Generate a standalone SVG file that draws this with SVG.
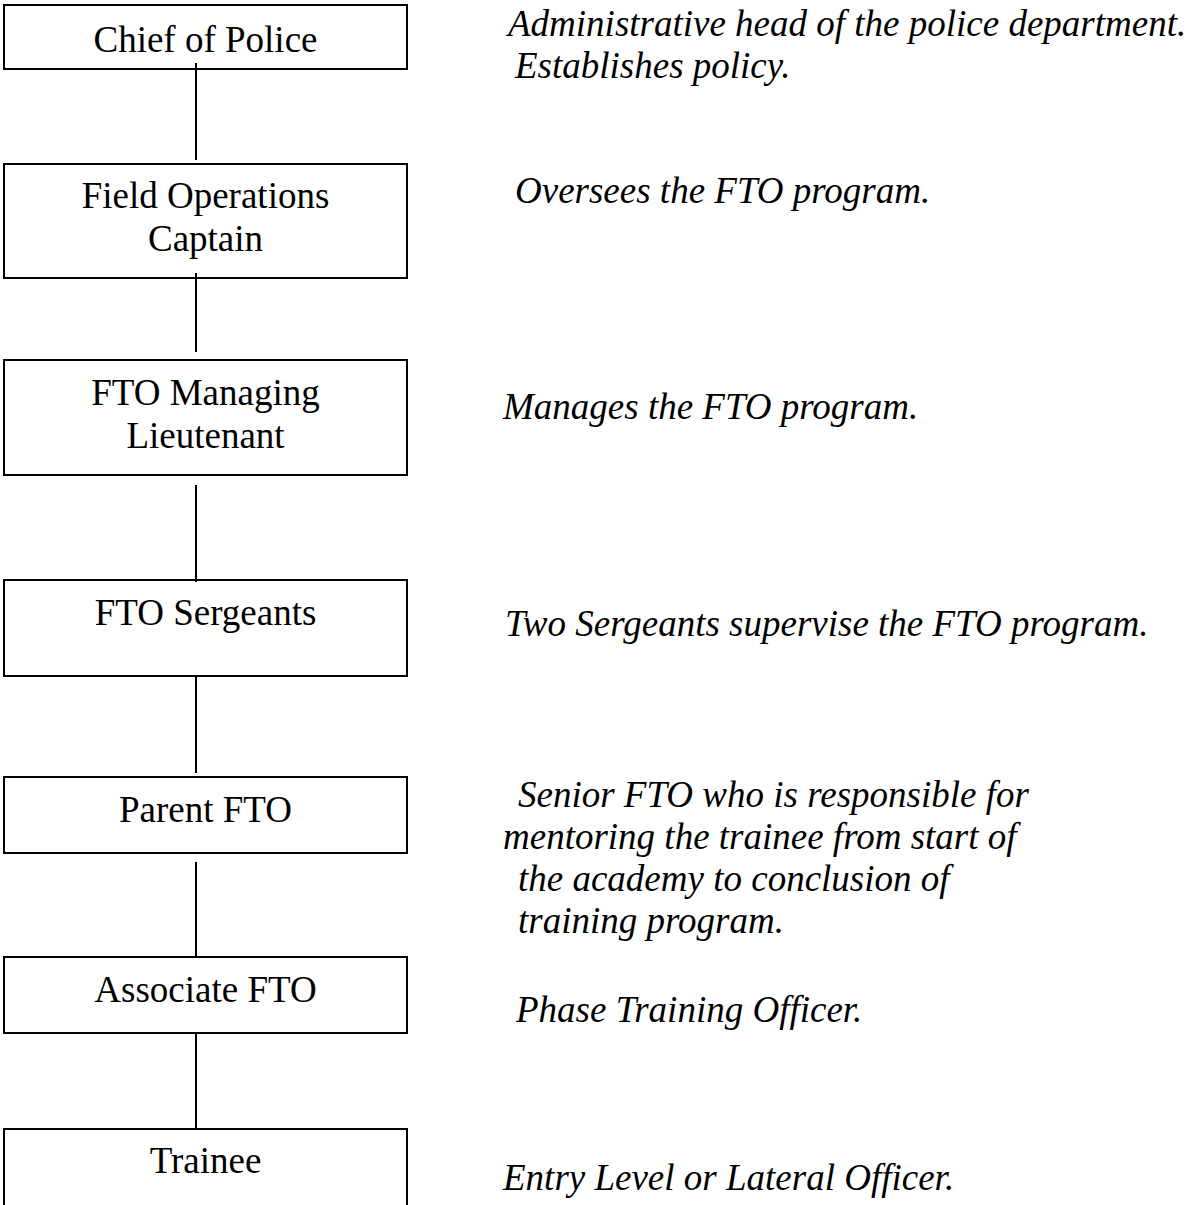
<svg xmlns="http://www.w3.org/2000/svg" width="1198" height="1205" viewBox="0 0 1198 1205">
<style>
.box{fill:#fff;stroke:#000;stroke-width:2}
.lbl{font-family:"Liberation Serif","Times New Roman",serif;font-size:37px;fill:#000;text-anchor:middle}
.desc{font-family:"Liberation Serif","Times New Roman",serif;font-size:37px;font-style:italic;fill:#000}
.conn line{stroke:#000;stroke-width:2}
</style>
<rect width="1198" height="1205" fill="#fff"/>
<g id="connectors" class="conn">
<line x1="196" y1="63" x2="196" y2="160"/>
<line x1="196" y1="273" x2="196" y2="352"/>
<line x1="196" y1="485" x2="196" y2="582"/>
<line x1="196" y1="676" x2="196" y2="773"/>
<line x1="196" y1="862" x2="196" y2="957"/>
<line x1="196" y1="1033" x2="196" y2="1129"/>
</g>
<g id="chief">
<rect class="box" x="4" y="5" width="403" height="64" fill-opacity="0"/>
<text class="lbl" x="205.5" y="52">Chief of Police</text>
</g>
<g id="captain">
<rect class="box" x="4" y="164" width="403" height="114" fill-opacity="0"/>
<text class="lbl" x="205.5" y="208">Field Operations</text>
<text class="lbl" x="205.5" y="251">Captain</text>
</g>
<g id="lieutenant">
<rect class="box" x="4" y="360" width="403" height="115"/>
<text class="lbl" x="205.5" y="405">FTO Managing</text>
<text class="lbl" x="205.5" y="448">Lieutenant</text>
</g>
<g id="sergeants">
<rect class="box" x="4" y="580" width="403" height="96" fill-opacity="0"/>
<text class="lbl" x="205.5" y="625">FTO Sergeants</text>
</g>
<g id="parent">
<rect class="box" x="4" y="777" width="403" height="76"/>
<text class="lbl" x="205.5" y="822">Parent FTO</text>
</g>
<g id="associate">
<rect class="box" x="4" y="957" width="403" height="76" fill-opacity="0"/>
<text class="lbl" x="205.5" y="1002">Associate FTO</text>
</g>
<g id="trainee">
<path d="M4 1207 V1129 H407 V1207" fill="none" stroke="#000" stroke-width="2"/>
<text class="lbl" x="205.5" y="1173">Trainee</text>
</g>
<g id="descriptions">
<text class="desc" x="508" y="36">Administrative head of the police department.</text>
<text class="desc" x="515" y="78">Establishes policy.</text>
<text class="desc" x="515" y="203">Oversees the FTO program.</text>
<text class="desc" x="503" y="419">Manages the FTO program.</text>
<text class="desc" x="505" y="636">Two Sergeants supervise the FTO program.</text>
<text class="desc" x="518" y="807">Senior FTO who is responsible for</text>
<text class="desc" x="503" y="849">mentoring the trainee from start of</text>
<text class="desc" x="518" y="891">the academy to conclusion of</text>
<text class="desc" x="518" y="933">training program.</text>
<text class="desc" x="516" y="1022">Phase Training Officer.</text>
<text class="desc" x="503" y="1190">Entry Level or Lateral Officer.</text>
</g>
</svg>
